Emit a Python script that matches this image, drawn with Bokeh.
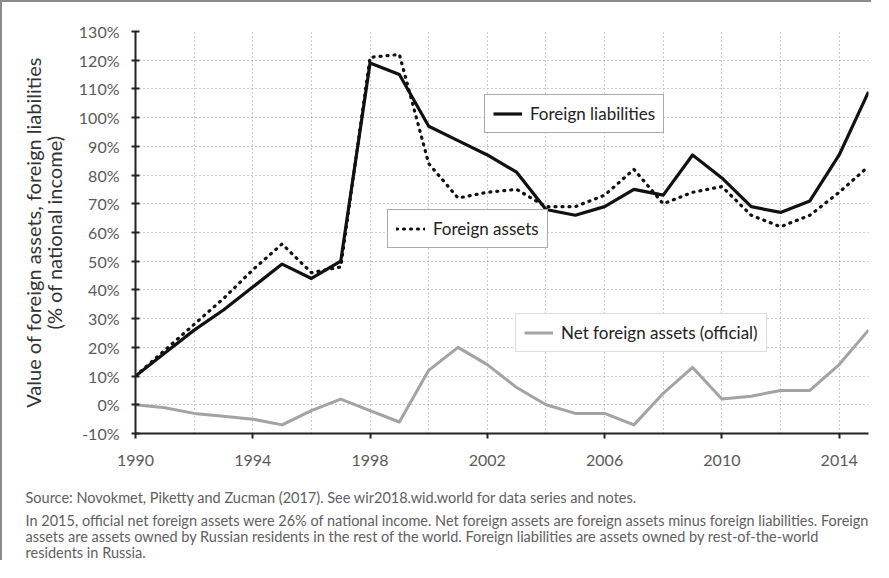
from bokeh.plotting import figure
from bokeh.models import FixedTicker, Legend, LegendItem, Title, Range1d
from bokeh.embed import file_html
from bokeh.resources import INLINE

years = list(range(1990, 2016))
foreign_liabilities = [10, 18, 26, 33, 41, 49, 44, 50, 119, 115, 97, 92, 87, 81,
                       68, 66, 69, 75, 73, 87, 79, 69, 67, 71, 87, 109]
foreign_assets = [10, 19, 28, 37, 47, 56, 46, 48, 121, 122, 84, 72, 74, 75,
                  69, 69, 73, 82, 70, 74, 76, 66, 62, 66, 74, 83]
net_foreign_assets = [0, -1, -3, -4, -5, -7, -2, 2, -2, -6, 12, 20, 14, 6,
                      0, -3, -3, -7, 4, 13, 2, 3, 5, 5, 14, 26]

x_ticks = [1990, 1994, 1998, 2002, 2006, 2010, 2014]
x_tick_labels = ["1990", "1994", "1998", "2002", "2006", "2010", "2014"]
x_grid_years = [1992, 1994, 1996, 1998, 2000, 2002, 2004, 2006, 2008, 2010, 2012, 2014]
y_ticks = [-10, 0, 10, 20, 30, 40, 50, 60, 70, 80, 90, 100, 110, 120, 130]
y_tick_labels = ["-10%", "0%", "10%", "20%", "30%", "40%", "50%", "60%", "70%",
                 "80%", "90%", "100%", "110%", "120%", "130%"]

series_names = ["Foreign liabilities", "Foreign assets", "Net foreign assets (official)"]
y_title = "Value of foreign assets, foreign liabilities\n(% of national income)"
source_note = "Source:  Novokmet, Piketty and Zucman (2017). See wir2018.wid.world for data series and notes."
note_lines = [
    "In 2015, official net foreign assets were 26% of national income. Net foreign assets are foreign assets minus foreign liabilities. Foreign",
    "assets are assets owned by Russian residents in the rest of the world. Foreign liabilities are assets owned by rest-of-the-world",
    "residents in Russia.",
]

FONT = "Lato"

p = figure(width=871, height=560, x_range=Range1d(1990, 2015), y_range=Range1d(-10, 130),
           output_backend="svg", toolbar_location=None,
           min_border_left=133, min_border_right=5, min_border_top=29, min_border_bottom=129)
p.outline_line_color = None
p.background_fill_color = "white"
p.border_fill_color = "white"
p.styles = {"border-left": "2px solid #8a8a8a", "border-top": "2px solid #8a8a8a"}

# grids
p.xgrid.ticker = FixedTicker(ticks=x_grid_years)
p.ygrid.ticker = FixedTicker(ticks=y_ticks)
for g in (p.xgrid, p.ygrid):
    g.grid_line_color = "#9a9a9a"
    g.grid_line_dash = "1 3"
    g.grid_line_width = 1

# axes
p.xaxis.ticker = FixedTicker(ticks=x_ticks)
p.xaxis.major_label_overrides = {t: l for t, l in zip(x_ticks, x_tick_labels)}
p.yaxis.ticker = FixedTicker(ticks=y_ticks)
p.yaxis.major_label_overrides = {t: l for t, l in zip(y_ticks, y_tick_labels)}
for ax in (p.xaxis, p.yaxis):
    ax.axis_line_color = "#222222"
    ax.axis_line_width = 2
    ax.major_tick_line_color = "#222222"
    ax.major_tick_line_width = 2
    ax.minor_tick_line_color = None
    ax.major_label_text_font = FONT
    ax.major_label_text_font_size = "16px"
    ax.major_label_text_color = "#5a5a5a"
p.xaxis.major_tick_in = 0
p.xaxis.major_tick_out = 5
p.xaxis.major_label_standoff = 16
p.yaxis.major_tick_in = 4
p.yaxis.major_tick_out = 4
p.yaxis.major_label_standoff = 12
p.yaxis.axis_label = y_title
p.yaxis.axis_label_text_font = FONT
p.yaxis.axis_label_text_font_size = "20px"
p.yaxis.axis_label_text_font_style = "normal"
p.yaxis.axis_label_text_color = "#333333"
p.yaxis.axis_label_text_line_height = 0.88
p.yaxis.axis_label_standoff = 10

# lines
r_net = p.line(years, net_foreign_assets, line_color="#a3a3a3", line_width=3, line_join="round")
r_assets = p.line(years, foreign_assets, line_color="#111111", line_width=3.2,
                  line_dash="1 6", line_cap="round", line_join="round")
r_liab = p.line(years, foreign_liabilities, line_color="#111111", line_width=3.2, line_join="round")


def add_legend(name, renderer, loc, border_color):
    lg = Legend(items=[LegendItem(label=name, renderers=[renderer])], location=loc,
                border_line_color=border_color, border_line_width=1,
                background_fill_color="white", background_fill_alpha=1,
                padding=8, margin=0, spacing=0, glyph_width=29, glyph_height=17,
                label_height=17, label_standoff=8, label_text_font=FONT,
                label_text_font_size="17px", label_text_color="#222222")
    p.add_layout(lg)


add_legend(series_names[0], r_liab, (349, 300), "#555555")
add_legend(series_names[1], r_assets, (252, 185), "#555555")
add_legend(series_names[2], r_net, (380, 81), "#bbbbbb")

# notes below the chart (a blank spacer title keeps them clear of the axis)
p.add_layout(Title(text=" ", text_font_size="8px", standoff=2), "below")
p.add_layout(Title(text=source_note, align="left", offset=-110, standoff=10,
                   text_font=FONT, text_font_size="14.5px", text_font_style="normal",
                   text_color="#606060"), "below")
p.add_layout(Title(text="\n".join(note_lines), align="left", offset=-110, standoff=0,
                   text_font=FONT, text_font_size="14.5px", text_font_style="normal",
                   text_color="#606060", text_line_height=0.95), "below")

open("out.html", "w").write(file_html(p, INLINE))
